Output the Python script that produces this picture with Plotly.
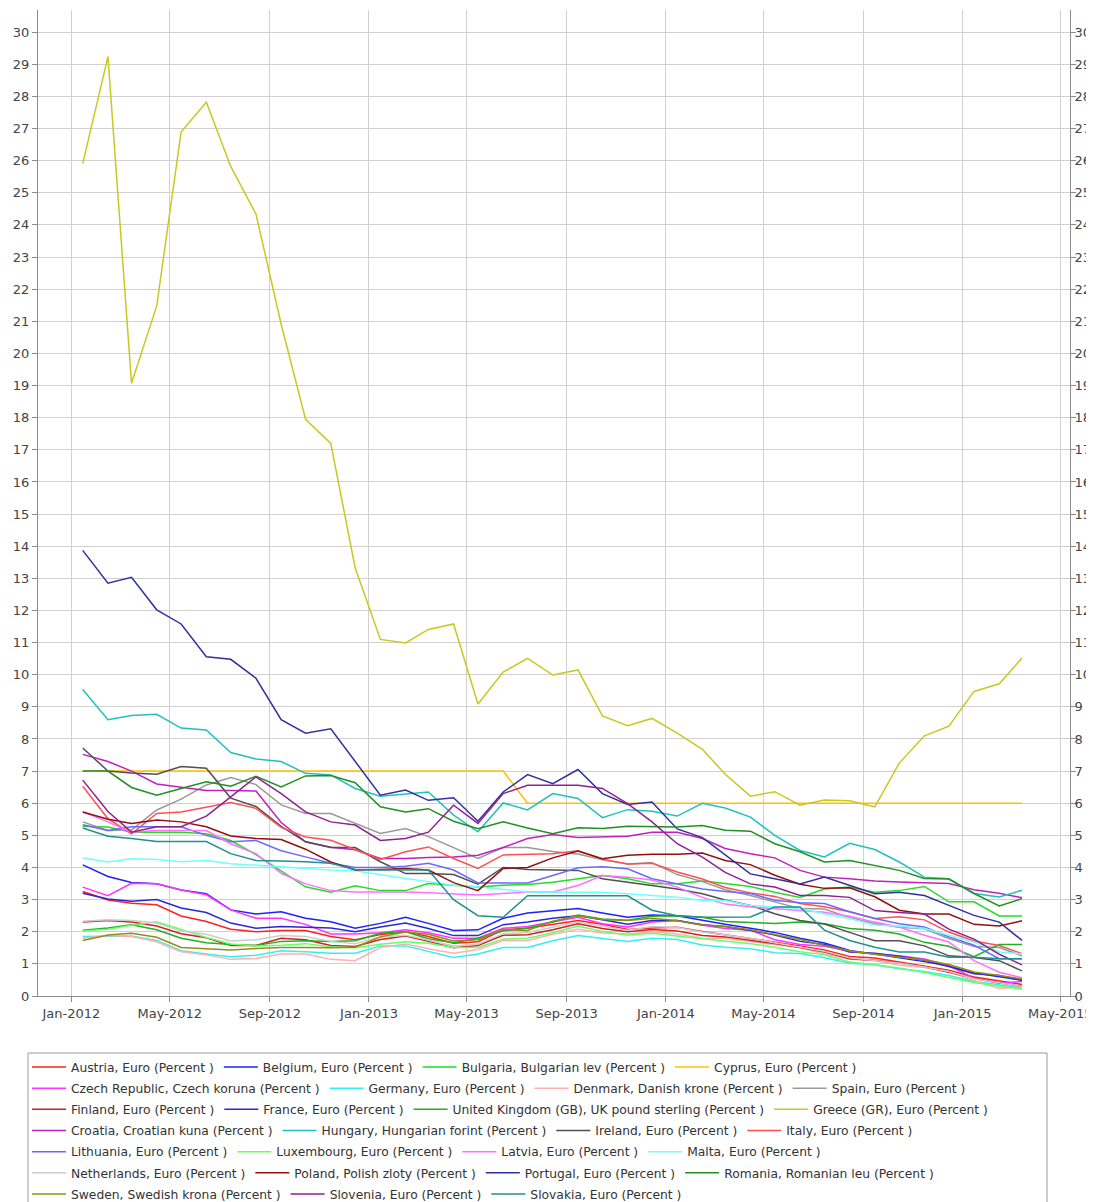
import plotly.graph_objects as go

# ---- data -------------------------------------------------------------
months = [f"{y}-{m:02d}-15" for y in (2012, 2013, 2014, 2015) for m in range(1, 13)][:39]

austria = [3.25,2.99,2.89,2.84,2.49,2.32,2.08,2.00,2.04,2.04,1.85,1.75, 1.91,2.01,1.85,1.64,1.69,2.06,2.11,2.22,2.35,2.23,2.07,2.12, 2.14,2.01,1.91,1.79,1.67,1.56,1.43,1.23,1.18,1.06,0.94,0.80, 0.59,0.47,0.36]
belgium = [4.08,3.72,3.53,3.49,3.30,3.18,2.68,2.55,2.62,2.42,2.31,2.11, 2.26,2.45,2.26,2.04,2.06,2.42,2.58,2.65,2.72,2.58,2.45,2.52, 2.50,2.36,2.23,2.11,1.98,1.80,1.65,1.42,1.30,1.19,1.07,0.93, 0.72,0.60,0.50]
bulgaria = [5.28,5.26,5.10,5.10,5.10,5.05,4.84,4.40,3.88,3.40,3.23,3.43, 3.28,3.28,3.50,3.45,3.39,3.45,3.47,3.54,3.65,3.75,3.65,3.49, 3.49,3.58,3.50,3.41,3.23,3.07,3.33,3.39,3.23,3.28,3.41,2.93, 2.93,2.49,2.49]
cyprus = [7.0,7.0,7.0,7.0,7.0,7.0,7.0,7.0,7.0,7.0,7.0,7.0, 7.0,7.0,7.0,7.0,7.0,7.0,6.0,6.0,6.0,6.0,6.0,6.0, 6.0,6.0,6.0,6.0,6.0,6.0,6.0,6.0,6.0,6.0,6.0,6.0, 6.0,6.0,6.0]
czech = [3.39,3.12,3.51,3.49,3.30,3.15,2.68,2.42,2.42,2.23,1.93,1.93, 1.97,2.06,1.97,1.80,1.80,2.11,2.16,2.30,2.45,2.25,2.15,2.30, 2.35,2.20,2.10,2.05,1.75,1.60,1.55,1.40,1.30,1.25,1.15,0.95, 0.55,0.40,0.45]
germany = [1.85,1.87,1.87,1.73,1.41,1.31,1.22,1.27,1.41,1.38,1.33,1.33, 1.56,1.56,1.38,1.20,1.31,1.51,1.51,1.72,1.88,1.78,1.70,1.80, 1.76,1.59,1.52,1.47,1.35,1.32,1.19,1.02,0.97,0.85,0.76,0.64, 0.45,0.35,0.26]
denmark = [1.80,1.88,1.85,1.69,1.38,1.28,1.14,1.17,1.31,1.31,1.14,1.10, 1.51,1.62,1.47,1.33,1.45,1.73,1.73,1.92,2.08,1.96,1.93,2.00, 1.93,1.80,1.79,1.69,1.58,1.50,1.31,1.14,1.10,0.96,0.89,0.75, 0.48,0.23,0.28]
spain = [5.42,5.15,5.17,5.79,6.13,6.57,6.80,6.58,5.95,5.68,5.68,5.37, 5.06,5.21,4.96,4.62,4.28,4.62,4.62,4.50,4.42,4.24,4.11,4.15, 3.78,3.56,3.31,3.13,2.92,2.72,2.71,2.44,2.26,2.14,2.09,1.79, 1.54,1.51,1.25]
finland = [2.30,2.35,2.30,2.18,1.94,1.81,1.57,1.57,1.80,1.75,1.57,1.54, 1.76,1.87,1.70,1.50,1.57,1.89,1.91,2.06,2.25,2.10,2.00,2.07, 2.02,1.88,1.84,1.74,1.63,1.51,1.37,1.16,1.11,1.03,0.91,0.74, 0.55,0.41,0.30]
france = [3.20,3.02,2.95,3.00,2.74,2.60,2.27,2.11,2.16,2.15,2.12,2.00, 2.15,2.27,2.10,1.88,1.88,2.22,2.30,2.42,2.50,2.37,2.23,2.35, 2.35,2.22,2.16,2.04,1.90,1.70,1.60,1.37,1.33,1.24,1.11,0.92, 0.69,0.64,0.48]
uk = [2.05,2.12,2.22,2.06,1.80,1.66,1.60,1.57,1.70,1.72,1.70,1.72, 1.95,2.00,1.78,1.66,1.80,2.02,2.12,2.30,2.52,2.40,2.36,2.48, 2.50,2.45,2.32,2.28,2.26,2.30,2.25,2.10,2.05,1.93,1.67,1.55, 1.22,1.60,1.60]
greece = [25.91,29.24,19.07,21.48,26.90,27.82,25.82,24.34,20.91,17.95,17.20,13.33, 11.10,10.99,11.41,11.58,9.09,10.08,10.51,9.99,10.15,8.72,8.41,8.64, 8.18,7.68,6.90,6.22,6.36,5.94,6.10,6.08,5.89,7.25,8.10,8.40, 9.48,9.72,10.52]
croatia = [7.52,7.30,7.00,6.60,6.50,6.40,6.40,6.38,5.40,4.80,4.63,4.55, 4.28,4.28,4.31,4.33,4.38,4.62,4.90,5.03,4.93,4.95,4.97,5.10, 5.10,4.90,4.59,4.43,4.30,3.91,3.70,3.65,3.58,3.55,3.52,3.50, 3.31,3.20,3.06]
hungary = [9.54,8.60,8.73,8.77,8.34,8.28,7.58,7.38,7.30,6.93,6.88,6.46, 6.22,6.30,6.35,5.63,5.11,6.01,5.79,6.30,6.15,5.55,5.80,5.75, 5.60,6.00,5.85,5.57,5.00,4.53,4.33,4.75,4.56,4.17,3.70,3.65, 3.19,3.08,3.29]
ireland = [7.72,7.00,6.94,6.90,7.14,7.09,6.16,5.90,5.28,4.80,4.62,4.62, 4.18,3.81,3.81,3.78,3.48,4.00,3.94,3.93,3.91,3.65,3.54,3.44, 3.33,3.18,2.99,2.82,2.56,2.35,2.24,1.98,1.72,1.72,1.56,1.25, 1.20,1.10,0.78]
italy = [6.53,5.52,5.05,5.68,5.73,5.87,6.02,5.84,5.25,4.95,4.85,4.56, 4.25,4.49,4.64,4.28,3.97,4.39,4.41,4.43,4.52,4.26,4.11,4.13, 3.86,3.64,3.38,3.21,3.10,2.88,2.78,2.62,2.41,2.47,2.37,1.99, 1.71,1.57,1.32]
lithuania = [5.33,5.15,5.27,5.27,5.27,5.00,4.80,4.84,4.52,4.33,4.13,4.00, 4.00,4.04,4.13,3.92,3.52,3.52,3.52,3.75,3.99,4.02,3.96,3.65, 3.49,3.33,3.25,3.19,2.98,2.90,2.88,2.62,2.41,2.25,2.15,1.84, 1.58,1.16,1.16]
luxembourg = [2.02,2.08,2.20,2.31,2.07,1.82,1.62,1.56,1.58,1.63,1.53,1.50, 1.61,1.69,1.64,1.51,1.51,1.77,1.80,1.97,2.18,2.01,1.90,1.95, 1.87,1.79,1.70,1.63,1.52,1.38,1.28,1.06,0.97,0.87,0.73,0.58, 0.42,0.30,0.22]
latvia = [5.73,5.42,5.10,5.15,5.15,5.15,4.74,4.43,3.82,3.49,3.28,3.24, 3.24,3.24,3.21,3.17,3.14,3.19,3.24,3.24,3.44,3.75,3.70,3.61, 3.39,3.07,2.86,2.77,2.72,2.68,2.61,2.48,2.30,2.15,1.89,1.68, 1.10,0.74,0.57]
malta = [4.30,4.17,4.27,4.25,4.18,4.22,4.12,4.07,4.00,3.97,3.92,3.90, 3.77,3.66,3.56,3.45,3.40,3.32,3.24,3.23,3.23,3.23,3.18,3.13, 3.07,2.97,2.97,2.82,2.77,2.72,2.56,2.41,2.20,2.18,2.10,1.89, 1.68,1.37,1.31]
netherlands = [2.33,2.37,2.35,2.27,2.02,1.92,1.71,1.75,1.88,1.85,1.70,1.63, 1.84,1.89,1.74,1.56,1.61,1.94,1.98,2.14,2.30,2.17,2.05,2.16, 2.13,1.99,1.91,1.80,1.66,1.52,1.39,1.19,1.11,1.02,0.90,0.76, 0.54,0.41,0.30]
poland = [5.73,5.50,5.37,5.48,5.42,5.27,4.98,4.90,4.87,4.57,4.17,3.92, 3.94,3.97,3.92,3.53,3.28,3.97,4.00,4.30,4.51,4.27,4.38,4.41, 4.41,4.45,4.22,4.09,3.76,3.48,3.35,3.37,3.09,2.67,2.55,2.55, 2.23,2.18,2.34]
portugal = [13.87,12.85,13.03,12.02,11.58,10.56,10.48,9.89,8.60,8.18,8.32,7.30, 6.25,6.41,6.09,6.17,5.44,6.35,6.89,6.61,7.05,6.30,5.96,6.04, 5.20,4.93,4.40,3.80,3.65,3.49,3.70,3.44,3.18,3.23,3.13,2.82, 2.51,2.30,1.73]
romania = [7.00,7.00,6.49,6.25,6.46,6.67,6.53,6.84,6.51,6.85,6.86,6.64, 5.89,5.73,5.83,5.44,5.21,5.42,5.23,5.05,5.24,5.21,5.28,5.28, 5.26,5.31,5.16,5.13,4.74,4.49,4.17,4.22,4.07,3.91,3.66,3.64, 3.19,2.80,3.03]
sweden = [1.73,1.90,1.95,1.83,1.51,1.48,1.43,1.48,1.51,1.51,1.50,1.52, 1.84,1.99,1.92,1.71,1.75,2.07,2.04,2.33,2.50,2.38,2.35,2.42, 2.34,2.21,2.16,2.06,1.91,1.76,1.57,1.40,1.30,1.21,1.12,0.98, 0.75,0.64,0.53]
slovenia = [6.72,5.74,5.10,5.27,5.27,5.60,6.20,6.82,6.30,5.73,5.42,5.32, 4.84,4.90,5.10,5.94,5.37,6.30,6.56,6.56,6.56,6.46,5.99,5.42, 4.74,4.32,3.85,3.49,3.39,3.13,3.13,3.07,2.66,2.60,2.55,2.08, 1.77,1.30,0.97]
slovakia = [5.23,4.97,4.90,4.81,4.81,4.81,4.43,4.22,4.20,4.18,4.13,3.94, 3.92,3.92,3.92,3.00,2.50,2.45,3.12,3.12,3.12,3.12,3.12,2.67, 2.50,2.45,2.45,2.46,2.77,2.77,2.05,1.73,1.52,1.37,1.37,1.21, 1.21,1.16,1.16]

names = [
    "Austria, Euro (Percent )", "Belgium, Euro (Percent )",
    "Bulgaria, Bulgarian lev (Percent )", "Cyprus, Euro (Percent )",
    "Czech Republic, Czech koruna (Percent )", "Germany, Euro (Percent )",
    "Denmark, Danish krone (Percent )", "Spain, Euro (Percent )",
    "Finland, Euro (Percent )", "France, Euro (Percent )",
    "United Kingdom (GB), UK pound sterling (Percent )", "Greece (GR), Euro (Percent )",
    "Croatia, Croatian kuna (Percent )", "Hungary, Hungarian forint (Percent )",
    "Ireland, Euro (Percent )", "Italy, Euro (Percent )",
    "Lithuania, Euro (Percent )", "Luxembourg, Euro (Percent )",
    "Latvia, Euro (Percent )", "Malta, Euro (Percent )",
    "Netherlands, Euro (Percent )", "Poland, Polish zloty (Percent )",
    "Portugal, Euro (Percent )", "Romania, Romanian leu (Percent )",
    "Sweden, Swedish krona (Percent )", "Slovenia, Euro (Percent )",
    "Slovakia, Euro (Percent )",
]
series = [austria, belgium, bulgaria, cyprus, czech, germany, denmark, spain,
          finland, france, uk, greece, croatia, hungary, ireland, italy,
          lithuania, luxembourg, latvia, malta, netherlands, poland, portugal,
          romania, sweden, slovenia, slovakia]
colors = ["#ff2020", "#2020ff", "#22dd22", "#ffc000", "#ff33ff", "#33f0f0",
          "#ffb0b0", "#999999", "#d42020", "#2828d8", "#20b020", "#c8c820",
          "#c020c0", "#20c0c0", "#505050", "#ff5050", "#6a6aff", "#66ff66",
          "#ff70ff", "#70ffff", "#cccccc", "#901010", "#3030a0", "#209020",
          "#909010", "#902090", "#209090"]

# ---- layout geometry (targets given in page pixels) --------------------
OFF = 8                       # default body margin of the html page
W, H = 1094 - OFF, 1202 - OFF
PLOT_L, PLOT_R, PLOT_T, PLOT_B = 38, 1070, 10, 996   # page pixels
ML, MR = PLOT_L - OFF, W - (PLOT_R - OFF)
MT, MB = PLOT_T - OFF, H - (PLOT_B - OFF)
PW, PH = W - ML - MR, H - MT - MB
FONT = "DejaVu Sans"
PER_ROW = 4
ROW0_PX, ROW_STEP = 1067, 21.17


def paper_x(px):
    return (px - PLOT_L) / PW


def paper_y(py):
    return (PLOT_B - py) / PH


fig = go.Figure()
for i, (nm, vals, col) in enumerate(zip(names, series, colors)):
    row = i // PER_ROW
    fig.add_trace(go.Scatter(
        x=months, y=vals, name=nm, mode="lines",
        line=dict(color=col, width=1.5),
        legend="legend" if row == 0 else f"legend{row + 1}",
    ))

# invisible trace to activate the mirrored right-hand axis
fig.add_trace(go.Scatter(x=[months[0]], y=[None], yaxis="y2", showlegend=False,
                         hoverinfo="skip", mode="lines"))

n_rows = (len(names) + PER_ROW - 1) // PER_ROW
legends = {}
for r in range(n_rows):
    key = "legend" if r == 0 else f"legend{r + 1}"
    legends[key] = dict(
        orientation="h", x=paper_x(27), xanchor="left",
        y=paper_y(ROW0_PX + r * ROW_STEP), yanchor="middle",
        bgcolor="rgba(0,0,0,0)", borderwidth=0, itemwidth=34,
        font=dict(family=FONT, size=12.3, color="#333333"),
        traceorder="normal",
    )

axis_font = dict(family=FONT, size=13, color="#444444")
yax = dict(range=[0, 30.69], dtick=1, tick0=0, zeroline=False, showline=True,
           linecolor="#8c8c8c", linewidth=1, ticks="outside", ticklen=5,
           tickcolor="#8c8c8c", tickfont=axis_font)

fig.update_layout(
    width=W, height=H,
    margin=dict(l=ML, r=MR, t=MT, b=MB, autoexpand=False),
    paper_bgcolor="white", plot_bgcolor="white",
    font=dict(family=FONT, color="#333333"),
    xaxis=dict(type="date", range=["2011-11-21", "2015-05-13"],
               tick0="2012-01-01", dtick="M4", tickformat="%b-%Y",
               showgrid=True, gridcolor="#d0d0d0", gridwidth=1, zeroline=False,
               showline=True, linecolor="#8c8c8c", linewidth=1,
               ticks="outside", ticklen=5, tickcolor="#8c8c8c",
               tickfont=axis_font),
    yaxis=dict(**yax, side="left", showgrid=True, gridcolor="#d0d0d0", gridwidth=1),
    yaxis2=dict(**yax, showgrid=False, overlaying="y", side="right",
                ticklabelstandoff=-4, ticklabeloverflow="allow"),
    showlegend=True,
    hovermode=False,
    shapes=[dict(type="rect", xref="paper", yref="paper",
                 x0=paper_x(28), x1=paper_x(1047),
                 y0=paper_y(1053), y1=paper_y(1215),
                 line=dict(color="#9a9a9a", width=1), fillcolor="rgba(0,0,0,0)",
                 layer="above")],
    **legends,
)

fig.write_html("out.html")
